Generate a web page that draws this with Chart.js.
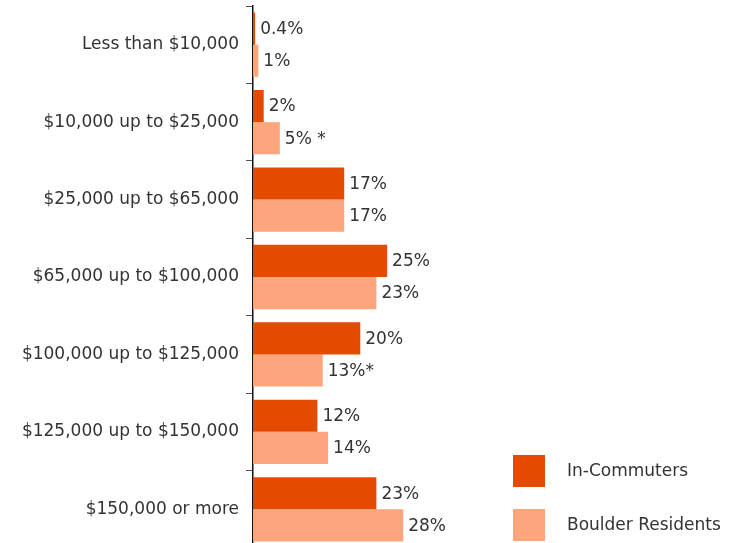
<!DOCTYPE html>
<html>
<head>
<meta charset="utf-8">
<script src="https://cdn.jsdelivr.net/npm/chart.js@4/dist/chart.umd.min.js"></script>
<style>
  html, body { margin: 0; padding: 0; background: #ffffff; overflow: hidden; }
  canvas { display: block; }
</style>
</head>
<body>
<canvas id="c" width="730" height="548"></canvas>
<script>
// Household income bands
const categories = [
  'Less than $10,000',
  '$10,000 up to $25,000',
  '$25,000 up to $65,000',
  '$65,000 up to $100,000',
  '$100,000 up to $125,000',
  '$125,000 up to $150,000',
  '$150,000 or more'
];
const seriesNames = ['In-Commuters', 'Boulder Residents'];
const inCommuters = [0.4, 2, 17, 25, 20, 12, 23];
const boulderResidents = [1, 5, 17, 23, 13, 14, 28];
// markers appended after a value label
const inCommuterNotes = ['', '', '', '', '', '', ''];
const residentNotes = ['', ' *', '', '', '*', '', ''];

const FONT = "'DejaVu Sans', Verdana, sans-serif";
const TEXT = '#333333';
const COLORS = ['#e54b00', '#fda57d'];

const valueLabels = {
  id: 'valueLabels',
  afterDatasetsDraw(chart) {
    const ctx = chart.ctx;
    const notes = [inCommuterNotes, residentNotes];
    ctx.save();
    ctx.font = '17px ' + FONT;
    ctx.fillStyle = TEXT;
    ctx.textAlign = 'left';
    ctx.textBaseline = 'middle';
    chart.data.datasets.forEach((ds, di) => {
      const meta = chart.getDatasetMeta(di);
      meta.data.forEach((bar, i) => {
        ctx.fillText(ds.data[i] + '%' + notes[di][i], bar.x + 5, bar.y + 1);
      });
    });
    ctx.restore();
  }
};

const boxLegend = {
  id: 'boxLegend',
  afterDraw(chart) {
    const ctx = chart.ctx;
    ctx.save();
    ctx.font = '17px ' + FONT;
    ctx.textAlign = 'left';
    ctx.textBaseline = 'middle';
    chart.data.datasets.forEach((ds, di) => {
      const top = 455 + di * 54;
      ctx.fillStyle = ds.backgroundColor;
      ctx.fillRect(513, top, 32, 32);
      ctx.fillStyle = TEXT;
      ctx.fillText(ds.label, 567, top + 17);
    });
    ctx.restore();
  }
};

new Chart(document.getElementById('c'), {
  type: 'bar',
  data: {
    labels: categories,
    datasets: [
      { label: seriesNames[0], data: inCommuters, backgroundColor: COLORS[0] },
      { label: seriesNames[1], data: boulderResidents, backgroundColor: COLORS[1] }
    ]
  },
  options: {
    indexAxis: 'y',
    responsive: false,
    animation: false,
    datasets: { bar: { categoryPercentage: 0.83, barPercentage: 1.0 } },
    layout: { padding: { top: 6, right: 21, bottom: 0, left: 0 } },
    plugins: { legend: { display: false }, tooltip: { enabled: false } },
    scales: {
      x: { display: false, min: 0, max: 85 },
      y: {
        afterFit(scale) {
          scale.width = 253;
          scale.paddingTop = 0;
          scale.paddingBottom = 0;
        },
        border: { display: true, color: '#111111', width: 1.5 },
        grid: { drawOnChartArea: false, drawTicks: true, tickLength: 7, color: '#555555' },
        ticks: { color: TEXT, padding: 7, font: { family: FONT, size: 17 } }
      }
    }
  },
  plugins: [valueLabels, boxLegend]
});
</script>
</body>
</html>
